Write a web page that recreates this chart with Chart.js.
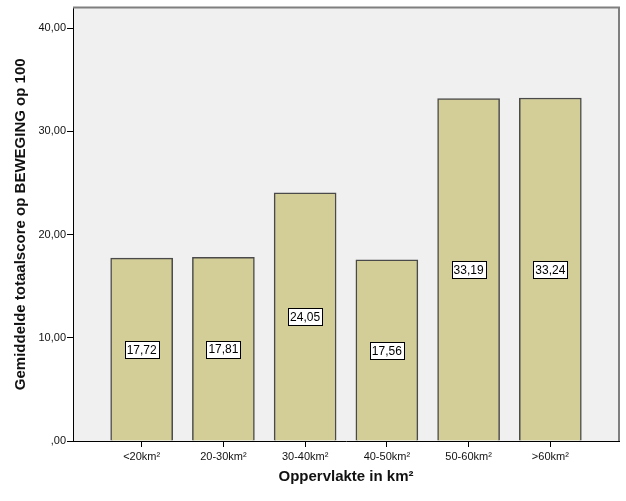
<!DOCTYPE html>
<html>
<head>
<meta charset="utf-8">
<script src="https://cdn.jsdelivr.net/npm/chart.js@4/dist/chart.umd.min.js"></script>
<style>
html,body{margin:0;padding:0;background:#fff;}
canvas{display:block;}
</style>
</head>
<body>
<canvas id="c" width="626" height="501"></canvas>
<script>
const categories = ['<20km²', '20-30km²', '30-40km²', '40-50km²', '50-60km²', '>60km²'];
const values = [17.72, 17.81, 24.05, 17.56, 33.19, 33.24];
const yTicks = [0, 10, 20, 30, 40];
const xTitle = 'Oppervlakte in km²';
const yTitle = 'Gemiddelde totaalscore op BEWEGING op 100';

const FONT = '"Liberation Sans", Arial, sans-serif';
const fmt = v => {
  const s = v.toFixed(2).replace('.', ',');
  return s.startsWith('0,') ? s.slice(1) : s;
};

const bgPlugin = {
  id: 'bg',
  beforeDraw(chart) {
    const {ctx, chartArea: a} = chart;
    ctx.save();
    ctx.fillStyle = '#f0f0f0';
    ctx.fillRect(a.left, a.top, a.right - a.left, a.bottom - a.top);
    ctx.restore();
  },
  afterDraw(chart) {
    const {ctx, chartArea: a} = chart;
    ctx.save();
    ctx.strokeStyle = '#7f7f7f';
    ctx.lineWidth = 2;
    ctx.beginPath();
    ctx.moveTo(a.left, a.top);
    ctx.lineTo(a.right, a.top);
    ctx.lineTo(a.right, a.bottom);
    ctx.stroke();
    ctx.restore();
  }
};

const labelPlugin = {
  id: 'boxLabels',
  afterDatasetsDraw(chart) {
    const {ctx} = chart;
    const ys = chart.scales.y;
    const meta = chart.getDatasetMeta(0);
    ctx.save();
    ctx.font = '12px ' + FONT;
    ctx.textAlign = 'center';
    ctx.textBaseline = 'middle';
    meta.data.forEach((el, i) => {
      const v = values[i];
      const txt = fmt(v);
      const cy = ys.getPixelForValue(v / 2);
      const w = Math.round(ctx.measureText(txt).width) + 4;
      const h = 17;
      const x0 = Math.round(el.x - w / 2) + 0.5;
      const y0 = Math.round(cy - h / 2) + 0.5;
      ctx.fillStyle = '#ffffff';
      ctx.fillRect(x0, y0, w, h);
      ctx.strokeStyle = '#000';
      ctx.lineWidth = 1;
      ctx.strokeRect(x0, y0, w, h);
      ctx.fillStyle = '#000';
      ctx.fillText(txt, el.x, cy + 1);
    });
    ctx.restore();
  }
};

new Chart(document.getElementById('c'), {
  type: 'bar',
  data: {
    datasets: [{
      data: values.map((v, i) => ({x: i, y: v})),
      backgroundColor: '#d3ce97',
      borderColor: '#4a4a4a',
      borderWidth: 1.5,
      barThickness: 62
    }]
  },
  options: {
    responsive: false,
    animation: false,
    devicePixelRatio: 1,
    layout: {padding: {top: 5, right: 7, left: 0, bottom: 0}},
    plugins: {legend: {display: false}, tooltip: {enabled: false}},
    scales: {
      x: {
        type: 'linear',
        min: -0.84,
        max: 5.84,
        offset: false,
        afterBuildTicks: s => { s.ticks = categories.map((c, i) => ({value: i})); },
        afterFit: s => { s.height = 60; },
        grid: {offset: false, drawOnChartArea: false, drawTicks: true, tickLength: 6, color: '#000', lineWidth: 1},
        border: {display: true, color: '#000', width: 1},
        ticks: {
          autoSkip: false,
          maxRotation: 0,
          padding: 3,
          color: '#111',
          font: {family: FONT, size: 11},
          callback: v => categories[v]
        },
        title: {
          display: true,
          text: xTitle,
          color: '#111',
          font: {family: FONT, size: 15, weight: 'bold'},
          padding: {top: 0, bottom: 15}
        }
      },
      y: {
        min: 0,
        max: 42,
        afterBuildTicks: s => { s.ticks = yTicks.map(v => ({value: v})); },
        afterFit: s => { s.width = 73; },
        grid: {drawOnChartArea: false, drawTicks: true, tickLength: 6, color: '#000', lineWidth: 1},
        border: {display: true, color: '#000', width: 1},
        ticks: {
          padding: 1,
          color: '#111',
          font: {family: FONT, size: 11},
          callback: v => fmt(v)
        },
        title: {
          display: true,
          text: yTitle,
          color: '#111',
          font: {family: FONT, size: 15, weight: 'bold'},
          padding: {top: 12, bottom: 0}
        }
      }
    }
  },
  plugins: [bgPlugin, labelPlugin]
});
</script>
</body>
</html>
